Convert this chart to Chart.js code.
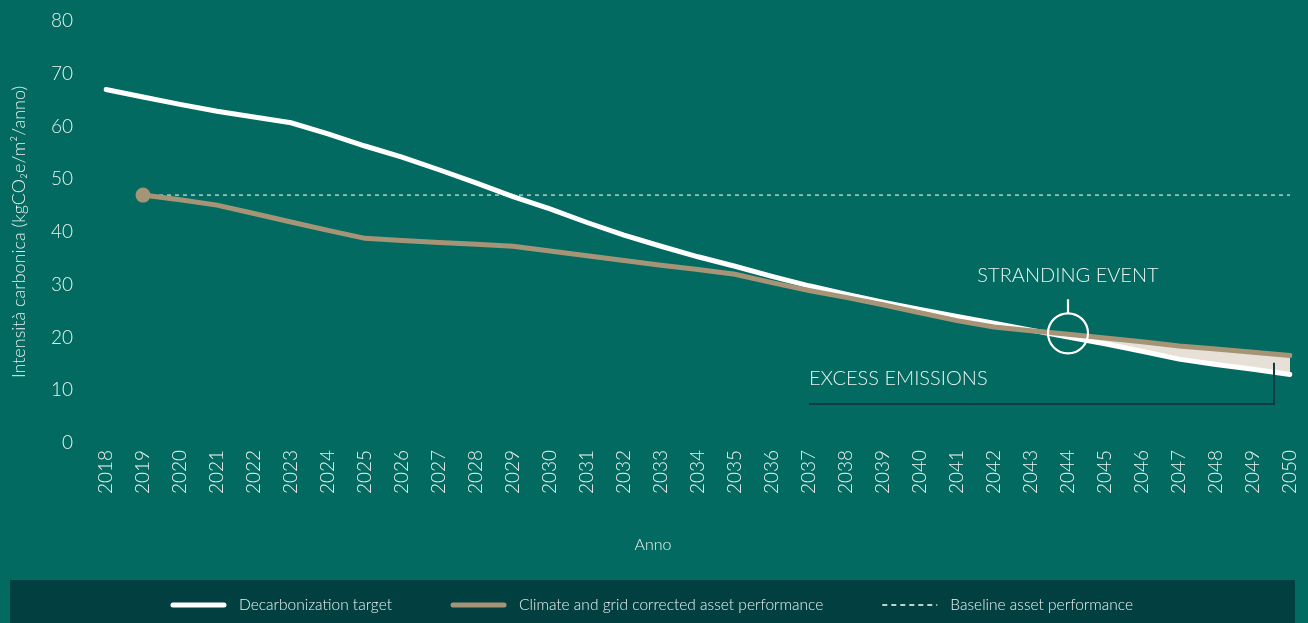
<!DOCTYPE html>
<html>
<head>
<meta charset="utf-8">
<script src="https://cdn.jsdelivr.net/npm/chart.js@4.4.1/dist/chart.umd.min.js"></script>
<style>
  html, body { margin: 0; padding: 0; background: #026a60; }
  #wrap { width: 1308px; height: 623px; position: relative; }
</style>
</head>
<body>
<div id="wrap"><canvas id="chart"></canvas></div>
<script>
// anni sull'asse x
const years = ['2018','2019','2020','2021','2022','2023','2024','2025','2026','2027','2028',
  '2029','2030','2031','2032','2033','2034','2035','2036','2037','2038','2039','2040',
  '2041','2042','2043','2044','2045','2046','2047','2048','2049','2050'];

// kgCO2e/m2/anno
const decarbonizationTarget = [67.0, 65.6, 64.2, 62.9, 61.8, 60.7, 58.6, 56.3, 54.2, 51.8, 49.3,
  46.7, 44.4, 41.8, 39.4, 37.3, 35.3, 33.5, 31.6, 29.8, 28.2, 26.7, 25.3,
  24.0, 22.7, 21.4, 20.1, 18.8, 17.4, 15.9, 14.9, 14.0, 13.0];
const correctedPerformance = [null, 47.0, 46.1, 45.1, 43.5, 41.9, 40.3, 38.8, 38.4, 38.0, 37.7,
  37.3, 36.4, 35.5, 34.6, 33.7, 32.9, 32.0, 30.4, 28.9, 27.6, 26.2, 24.7,
  23.2, 22.0, 21.3, 20.6, 19.9, 19.2, 18.4, 17.8, 17.2, 16.6];
const baselinePerformance = [null, 47, 47, 47, 47, 47, 47, 47, 47, 47, 47,
  47, 47, 47, 47, 47, 47, 47, 47, 47, 47, 47, 47,
  47, 47, 47, 47, 47, 47, 47, 47, 47, 47];
const yTicks = [0, 10, 20, 30, 40, 50, 60, 70, 80];

const BG = '#026a60';
const BAND = '#023f40';
const WHITE = '#ffffff';
const BROWN = '#a69477';
const FILL = '#e7e0d6';
const TEXT = '#eaf3f0';
const FONT = 'Lato, "Open Sans", sans-serif';

Chart.defaults.font.family = FONT;
Chart.defaults.font.weight = '300';
Chart.defaults.color = TEXT;

// sfondo + banda della legenda
const background = {
  id: 'background',
  beforeDraw(chart) {
    const { ctx, width, height } = chart;
    ctx.save();
    ctx.fillStyle = BG;
    ctx.fillRect(0, 0, width, height);
    ctx.fillStyle = BAND;
    ctx.fillRect(10, height - 43, 1285, 43);
    ctx.restore();
  }
};

// legenda disegnata a mano dentro la banda scura
const bandLegend = {
  id: 'bandLegend',
  afterDraw(chart) {
    const { ctx, height } = chart;
    ctx.save();
    ctx.font = '300 15.5px ' + FONT;
    const sample = 55, gapText = 13, gapItem = 59;
    const items = chart.data.datasets.map(ds => ({ ds, w: ctx.measureText(ds.label).width }));
    const total = items.reduce((s, it) => s + sample + gapText + it.w, 0) + gapItem * (items.length - 1);
    let x = 652 - total / 2;
    const y = height - 18;
    items.forEach(({ ds, w }) => {
      ctx.beginPath();
      ctx.strokeStyle = ds.borderColor;
      ctx.lineWidth = ds.borderDash ? 1.3 : ds.borderWidth;
      ctx.setLineDash(ds.borderDash ? [5, 4] : []);
      ctx.lineCap = ds.borderDash ? 'butt' : 'round';
      const inset = ds.borderDash ? 0 : 2;
      ctx.moveTo(x + inset, y);
      ctx.lineTo(x + sample - inset, y);
      ctx.stroke();
      ctx.setLineDash([]);
      ctx.fillStyle = TEXT;
      ctx.textBaseline = 'middle';
      ctx.fillText(ds.label, x + sample + gapText, y);
      x += sample + gapText + w + gapItem;
    });

    // titolo asse x, centrato sulla pagina e non sull'area del grafico
    ctx.font = '300 16px ' + FONT;
    ctx.textAlign = 'center';
    ctx.fillText('Anno', 653, 545);
    ctx.restore();
  }
};

// annotazioni: stranding event + excess emissions
const annotations = {
  id: 'annotations',
  afterDatasetsDraw(chart) {
    const { ctx } = chart;
    const xs = chart.scales.x, ys = chart.scales.y;
    const iCross = years.indexOf('2044');
    const cx = xs.getPixelForValue(iCross);
    const cy = ys.getPixelForValue(20.8);
    const r = 20;
    ctx.save();
    ctx.strokeStyle = WHITE;
    ctx.lineWidth = 2.2;
    ctx.beginPath();
    ctx.arc(cx, cy, r, 0, Math.PI * 2);
    ctx.stroke();
    ctx.beginPath();
    ctx.moveTo(cx, cy - r);
    ctx.lineTo(cx, cy - r - 14);
    ctx.stroke();
    ctx.fillStyle = TEXT;
    ctx.font = '300 20px ' + FONT;
    ctx.textAlign = 'center';
    ctx.textBaseline = 'middle';
    ctx.fillText('STRANDING EVENT', cx, cy - r - 38);

    // excess emissions
    const x0 = xs.getPixelForValue(years.indexOf('2037'));
    const x1 = xs.getPixelForValue(years.indexOf('2049')) + 21;
    const yLine = ys.getPixelForValue(7.4);
    const yTop = ys.getPixelForValue(15.2);
    ctx.strokeStyle = '#0d3d42';
    ctx.lineWidth = 2;
    ctx.beginPath();
    ctx.moveTo(x0, yLine);
    ctx.lineTo(x1, yLine);
    ctx.lineTo(x1, yTop);
    ctx.stroke();
    ctx.textAlign = 'left';
    ctx.fillText('EXCESS EMISSIONS', x0, ys.getPixelForValue(12.3));
    ctx.restore();
  }
};

new Chart(document.getElementById('chart'), {
  type: 'line',
  data: {
    labels: years,
    datasets: [
      {
        label: 'Decarbonization target',
        data: decarbonizationTarget,
        borderColor: WHITE,
        borderWidth: 5,
        borderCapStyle: 'round',
        pointRadius: 0,
        tension: 0,
        order: 1,
        fill: { target: 1, above: 'rgba(0,0,0,0)', below: FILL }
      },
      {
        label: 'Climate and grid corrected asset performance',
        data: correctedPerformance,
        borderColor: BROWN,
        borderWidth: 5,
        borderCapStyle: 'round',
        pointRadius: ctx => ctx.dataIndex === 1 ? 7.5 : 0,
        pointBackgroundColor: BROWN,
        pointBorderWidth: 0,
        tension: 0,
        order: 0,
        fill: false
      },
      {
        label: 'Baseline asset performance',
        data: baselinePerformance,
        borderColor: WHITE,
        borderWidth: 1,
        borderDash: [4, 4],
        pointRadius: 0,
        order: 2,
        fill: false
      }
    ]
  },
  options: {
    responsive: true,
    maintainAspectRatio: false,
    animation: false,
    layout: { padding: { left: 8, right: 18, top: 21, bottom: 43 } },
    plugins: {
      legend: { display: false },
      tooltip: { enabled: false }
    },
    scales: {
      x: {
        grid: { display: false, drawTicks: false },
        border: { display: false },
        ticks: { autoSkip: false, minRotation: 90, maxRotation: 90, padding: 7, font: { size: 19 } },
        afterFit(scale) {
          scale.height = 137;
          scale.paddingLeft = 0;
          scale.paddingRight = 0;
        }
      },
      y: {
        min: 0,
        max: 80,
        grid: { display: false, drawTicks: false },
        border: { display: false },
        afterBuildTicks(scale) { scale.ticks = yTicks.map(v => ({ value: v })); },
        ticks: { padding: 33, font: { size: 19 } },
        title: { display: true, text: 'Intensità carbonica (kgCO₂e/m²/anno)', font: { size: 18 }, padding: { top: 0, bottom: 0 } },
        afterFit(scale) {
          scale.width = 98;
          scale.paddingTop = 0;
          scale.paddingBottom = 0;
        }
      }
    }
  },
  plugins: [background, annotations, bandLegend]
});
</script>
</body>
</html>
